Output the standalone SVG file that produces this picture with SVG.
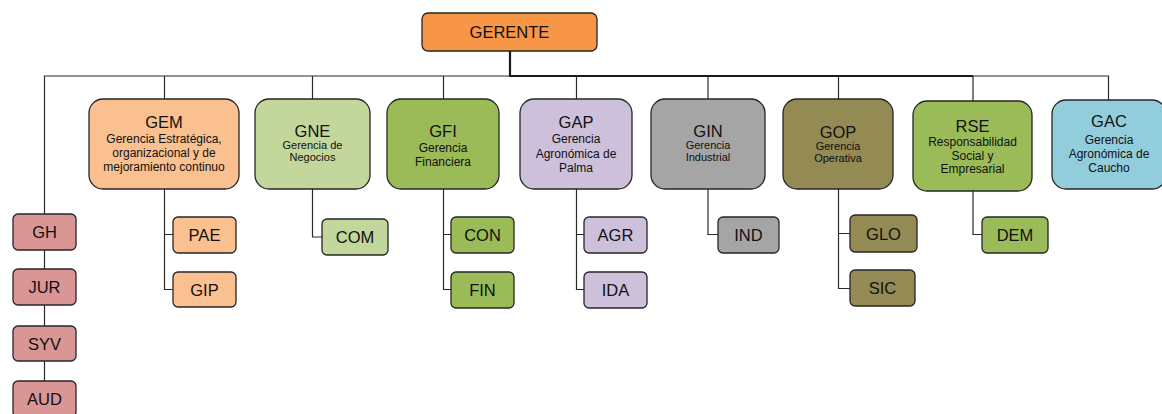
<svg xmlns="http://www.w3.org/2000/svg" width="1162" height="414" viewBox="0 0 1162 414">
<style>
  .box { stroke: #262626; stroke-width: 1.3; }
  .ln { fill: none; stroke: #2a2a2a; stroke-width: 1.2; }
  .thick { fill: none; stroke: #1a1a1a; stroke-width: 2.2; }
  text { font-family: "Liberation Sans", Arial, sans-serif; fill: #111; text-anchor: middle; }
  .t { font-size: 16.5px; }
  .s { font-size: 12px; }
  .n { font-size: 11px; }
  .c { font-size: 16.5px; }
  .org { fill: #F79646; }
  .lor { fill: #FAC090; }
  .lgr { fill: #C3D69B; }
  .grn { fill: #9BBB59; }
  .lav { fill: #CCC0DA; }
  .gry { fill: #A5A5A5; }
  .olv { fill: #948A54; }
  .blu { fill: #92CDDC; }
  .pnk { fill: #D99694; }
</style>
<rect width="1162" height="414" fill="#fff"/>
<g id="connectors">
  <path class="ln" d="M510 76 H44.5 V381"/>
  <path class="ln" d="M973 76 H1108.5 V100"/>
  <path class="thick" d="M510 51 V76 H973"/>
  <path class="ln" d="M164.5 76 V99 M312.5 76 V99 M443.5 76 V99 M576.5 76 V99 M708 76 V99 M838.5 76 V99 M973 76 V101"/>
  <path class="ln" d="M164.5 189 V289.5 H173 M164.5 234.5 H173"/>
  <path class="ln" d="M312.5 189 V237 H322"/>
  <path class="ln" d="M443.5 189 V289.5 H451 M443.5 234.5 H451"/>
  <path class="ln" d="M576.5 189 V289.5 H584 M576.5 234.5 H584"/>
  <path class="ln" d="M708 189 V234.5 H718"/>
  <path class="ln" d="M838.5 189 V288.5 H850 M838.5 233.5 H850"/>
  <path class="ln" d="M973 191 V234.5 H982"/>
</g>
<g id="gerente">
  <rect class="box org" x="422" y="13" width="175" height="38" rx="6"/>
  <text class="t" x="509.5" y="38">GERENTE</text>
</g>
<g id="gem">
  <rect class="box lor" x="89" y="99" width="150" height="90" rx="14"/>
  <text class="t" x="164" y="128">GEM</text>
  <text class="s" x="164" y="143">Gerencia Estratégica,</text>
  <text class="s" x="164" y="157">organizacional y de</text>
  <text class="s" x="164" y="171">mejoramiento continuo</text>
</g>
<g id="gne">
  <rect class="box lgr" x="255" y="99" width="115" height="90" rx="14"/>
  <text class="t" x="312.5" y="137">GNE</text>
  <text class="n" x="312.5" y="149">Gerencia de</text>
  <text class="n" x="312.5" y="161">Negocios</text>
</g>
<g id="gfi">
  <rect class="box grn" x="387" y="99" width="112" height="90" rx="14"/>
  <text class="t" x="443" y="137">GFI</text>
  <text class="s" x="443" y="152">Gerencia</text>
  <text class="s" x="443" y="166">Financiera</text>
</g>
<g id="gap">
  <rect class="box lav" x="520" y="99" width="112" height="90" rx="14"/>
  <text class="t" x="576" y="128">GAP</text>
  <text class="s" x="576" y="143">Gerencia</text>
  <text class="s" x="576" y="157.5">Agronómica de</text>
  <text class="s" x="576" y="172">Palma</text>
</g>
<g id="gin">
  <rect class="box gry" x="651" y="99" width="114" height="90" rx="14"/>
  <text class="t" x="708" y="137">GIN</text>
  <text class="n" x="708" y="149">Gerencia</text>
  <text class="n" x="708" y="161">Industrial</text>
</g>
<g id="gop">
  <rect class="box olv" x="783" y="99" width="110" height="90" rx="14"/>
  <text class="t" x="838" y="138">GOP</text>
  <text class="n" x="838" y="149.5">Gerencia</text>
  <text class="n" x="838" y="161.5">Operativa</text>
</g>
<g id="rse">
  <rect class="box grn" x="913" y="101" width="119" height="90" rx="14"/>
  <text class="t" x="972.5" y="132">RSE</text>
  <text class="s" x="972.5" y="145.5">Responsabilidad</text>
  <text class="s" x="972.5" y="159.5">Social y</text>
  <text class="s" x="972.5" y="173">Empresarial</text>
</g>
<g id="gac">
  <rect class="box blu" x="1052" y="100" width="114" height="89" rx="14"/>
  <text class="t" x="1109" y="127">GAC</text>
  <text class="s" x="1109" y="144">Gerencia</text>
  <text class="s" x="1109" y="158">Agronómica de</text>
  <text class="s" x="1109" y="172">Caucho</text>
</g>
<g id="gh"><rect class="box pnk" x="13" y="214" width="63" height="36" rx="5"/><text class="c" x="44.5" y="238">GH</text></g>
<g id="jur"><rect class="box pnk" x="13" y="269" width="63" height="36" rx="5"/><text class="c" x="44.5" y="293">JUR</text></g>
<g id="syv"><rect class="box pnk" x="13" y="326" width="63" height="35" rx="5"/><text class="c" x="44.5" y="349.5">SYV</text></g>
<g id="aud"><rect class="box pnk" x="13" y="381" width="63" height="36" rx="5"/><text class="c" x="44.5" y="405">AUD</text></g>
<g id="pae"><rect class="box lor" x="173" y="217" width="63" height="36" rx="5"/><text class="c" x="204.5" y="241">PAE</text></g>
<g id="gip"><rect class="box lor" x="173" y="272" width="63" height="35" rx="5"/><text class="c" x="204.5" y="295.5">GIP</text></g>
<g id="com"><rect class="box lgr" x="322" y="219" width="66" height="36" rx="5"/><text class="c" x="355" y="243">COM</text></g>
<g id="con"><rect class="box grn" x="451" y="217" width="63" height="36" rx="5"/><text class="c" x="482.5" y="241">CON</text></g>
<g id="fin"><rect class="box grn" x="451" y="272" width="63" height="36" rx="5"/><text class="c" x="482.5" y="296">FIN</text></g>
<g id="agr"><rect class="box lav" x="584" y="217" width="63" height="36" rx="5"/><text class="c" x="615.5" y="241">AGR</text></g>
<g id="ida"><rect class="box lav" x="584" y="272" width="63" height="36" rx="5"/><text class="c" x="615.5" y="296">IDA</text></g>
<g id="ind"><rect class="box gry" x="718" y="217" width="61" height="36" rx="5"/><text class="c" x="748.5" y="241">IND</text></g>
<g id="glo"><rect class="box olv" x="850" y="215" width="67" height="37" rx="5"/><text class="c" x="883.5" y="239.5">GLO</text></g>
<g id="sic"><rect class="box olv" x="850" y="270" width="65" height="36" rx="5"/><text class="c" x="882.5" y="294">SIC</text></g>
<g id="dem"><rect class="box grn" x="982" y="217" width="66" height="36" rx="5"/><text class="c" x="1015" y="241">DEM</text></g>
</svg>
